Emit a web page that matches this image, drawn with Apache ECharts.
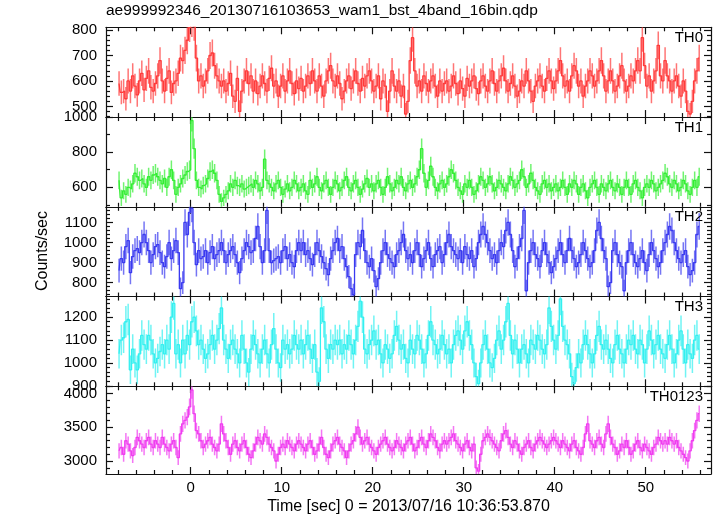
<!DOCTYPE html>
<html><head><meta charset="utf-8">
<script src="https://cdn.jsdelivr.net/npm/echarts@6/dist/echarts.min.js"></script>
<style>html,body{margin:0;padding:0;background:#fff}#c{width:717px;height:516px}</style>
</head><body><div id="c"></div>
<script>
// ---------------- data ----------------
const chartTitle = "ae999992346_20130716103653_wam1_bst_4band_16bin.qdp";
const xTitle = "Time [sec] 0 = 2013/07/16 10:36:53.870";
const yTitle = "Counts/sec";
const panelNames = ["TH0", "TH1", "TH2", "TH3", "TH0123"];
const binStart = -8;      // first bin left edge (sec)
const binWidth = 0.25;    // bin width (sec)
const xTicks = [0, 10, 20, 30, 40, 50];
const xMinorTicks = [-8, -6, -4, -2, 2, 4, 6, 8, 12, 14, 16, 18, 22, 24, 26, 28, 32, 34, 36, 38, 42, 44, 46, 48, 52, 54, 56];

const th0 = [
590,555,560,530,600,560,620,580,545,600,630,565,610,640,575,560,
590,620,680,600,560,610,640,555,590,600,630,690,680,720,760,810,
830,815,690,600,620,580,600,640,700,710,660,620,600,580,600,560,
590,630,540,520,610,480,560,600,640,590,620,560,600,550,580,620,
590,560,610,650,580,600,540,580,620,560,600,640,590,550,600,570,
610,560,580,620,590,640,600,560,620,580,540,600,640,660,600,580,
620,590,530,560,600,620,570,600,640,590,560,610,580,620,640,600,
560,580,620,530,600,580,480,560,640,580,560,600,540,580,470,520,
680,770,640,580,600,560,620,590,560,600,620,580,540,600,560,590,
600,560,580,620,590,550,600,570,540,610,580,600,620,570,550,600,
620,580,560,600,640,590,560,600,620,650,600,560,590,620,580,540,
560,600,580,640,600,560,520,580,600,620,580,560,610,640,600,570,
600,640,680,620,580,600,560,620,660,640,580,600,540,580,600,640,
620,580,600,640,680,620,560,600,640,600,560,580,620,660,600,560,
580,620,600,640,680,640,770,660,580,620,560,600,640,740,620,600,
680,620,600,560,600,620,580,540,600,560,480,470,520,600,640,690
];
const th1 = [
640,540,580,560,600,590,620,680,660,640,650,620,600,660,640,670,
680,660,640,620,650,600,660,700,640,560,600,620,650,670,690,700,
980,820,640,600,590,610,620,650,690,700,680,640,560,520,540,560,
580,620,600,640,610,600,620,590,600,610,620,600,640,620,580,600,
760,640,620,600,580,620,640,600,560,590,620,580,600,640,620,580,
600,620,580,560,640,600,620,660,600,580,620,640,600,560,600,640,
620,580,600,640,660,600,580,620,640,600,560,590,620,650,600,620,
580,620,640,600,560,600,660,620,580,600,640,620,660,600,580,620,
640,600,620,660,700,820,680,600,640,720,660,600,580,620,640,600,
620,660,700,680,640,600,580,560,620,600,640,600,560,580,620,660,
640,600,620,660,620,580,600,640,620,600,580,620,660,640,600,620,
640,700,660,600,620,680,640,600,580,560,620,640,600,620,580,600,
620,580,600,640,600,560,620,600,640,620,560,600,620,580,540,600,
620,640,600,560,620,600,580,620,640,600,580,620,600,560,600,640,
600,560,620,640,600,580,540,600,620,600,640,620,580,600,620,640,
680,660,620,600,640,620,580,600,640,620,580,560,600,640,600,660
];
const th2 = [
860,920,900,980,1010,850,930,960,970,950,1000,1040,1000,960,900,940,
980,990,950,900,880,930,1000,920,960,1010,950,770,800,1100,1040,1150,
1170,1000,890,960,920,930,960,900,950,980,920,940,960,1000,960,900,
940,960,980,940,900,850,920,960,1000,980,950,960,1020,1080,980,900,
960,1160,960,900,910,920,930,900,960,980,920,940,900,880,960,1000,
960,1000,940,960,920,890,940,1000,960,930,900,870,840,920,960,1000,
1020,960,980,920,880,830,770,740,940,1000,980,1060,960,900,880,920,
860,780,820,900,960,1000,940,920,900,880,940,960,1000,1040,960,920,
940,900,960,1000,940,880,920,960,1000,920,880,940,960,980,900,940,
1000,1040,980,960,940,920,960,900,980,940,920,960,880,920,1000,1040,
1080,1040,1000,960,920,940,900,960,1000,980,1060,1100,1040,960,880,920,
980,1020,1160,760,900,960,1000,940,920,880,960,1000,940,900,850,880,
920,960,1000,940,900,960,1020,960,920,880,900,940,1000,960,920,880,
900,960,1060,1100,1020,960,920,780,800,960,1000,940,900,880,760,900,
960,1000,940,900,880,920,960,900,860,940,1000,960,920,880,900,960,
1000,1040,1080,1060,1000,960,920,900,940,960,880,840,860,900,1040,1080
];
const th3 = [
1040,1100,1110,1180,1190,970,1060,1000,970,1040,1120,1080,1060,1120,1100,1040,
1000,1020,1050,1080,1040,1100,1060,1200,1260,1040,1080,1000,1100,1040,1120,1080,
1180,1200,1140,1080,1100,1060,1020,1040,1080,1120,1060,1100,1150,1240,1100,1060,
1020,1080,1100,1060,1040,1000,1120,1060,1000,960,1060,1120,1080,1040,1000,1060,
1100,1040,1000,1080,1150,1060,1000,980,1100,1060,1080,1040,1060,1120,1080,1060,
1100,1040,1080,1120,1060,1020,1080,960,920,1240,1180,1060,1020,1080,1060,1100,
1080,1100,1040,1080,1060,1120,1080,1040,1100,1160,1270,1200,1060,1040,1080,1100,
1140,1080,1100,1040,1000,1080,1060,1020,1040,1120,1160,1100,1060,1080,1020,1000,
1100,1060,1040,1120,1100,1060,1000,1040,1120,1180,1100,1080,1040,1060,1120,1080,
1040,1060,1000,1080,1120,1140,1100,1060,1140,1180,1120,1080,1000,940,910,1000,
1080,1120,1060,1000,980,1020,1100,1140,1060,1100,1180,1260,1120,1040,1100,1060,
1000,1060,1080,1040,1000,1100,1080,1060,1120,1100,1060,1040,1080,1240,1160,1100,
1060,1120,1280,1160,1100,1080,1040,940,910,980,1040,1000,1080,1120,1080,1040,
1000,1040,1120,1160,1080,1060,1100,1060,1020,1000,1080,1120,1060,1040,1000,1060,
1100,1080,1120,1060,1040,1100,1080,1000,1060,1140,1100,1040,1080,1120,1060,1040,
1020,1080,1120,1060,1000,1040,1100,1140,1060,1000,1080,1040,1020,1100,1120,1060
];
const th0123 = [
3150,3200,3100,3300,3250,3150,3080,3200,3350,3300,3250,3200,3300,3350,3250,3200,
3300,3250,3200,3350,3250,3200,3150,3250,3300,3200,3050,3400,3550,3600,3650,3800,
4050,3700,3450,3400,3300,3200,3250,3300,3350,3250,3200,3150,3250,3550,3400,3300,
3200,3100,3250,3300,3200,3150,3250,3300,3200,3100,3050,3150,3250,3350,3300,3250,
3400,3350,3250,3200,3150,3000,3100,3200,3250,3200,3300,3250,3200,3150,3250,3300,
3250,3200,3150,3250,3300,3200,3100,3150,3250,3350,3200,3100,3050,3150,3250,3300,
3350,3250,3200,3150,3050,3150,3250,3300,3400,3500,3350,3250,3300,3350,3250,3200,
3150,3100,3200,3250,3300,3350,3250,3200,3150,3200,3300,3250,3200,3150,3250,3300,
3350,3250,3150,3200,3300,3350,3250,3200,3300,3400,3350,3300,3200,3150,3250,3300,
3250,3300,3350,3400,3300,3250,3200,3150,3250,3300,3200,3150,3250,2900,2850,3100,
3300,3350,3400,3350,3300,3250,3200,3150,3300,3400,3450,3350,3250,3200,3300,3250,
3150,3100,3200,3250,3300,3200,3150,3250,3300,3350,3300,3250,3200,3250,3300,3350,
3300,3250,3200,3300,3250,3200,3150,3250,3300,3200,3150,3100,3200,3400,3550,3300,
3250,3200,3300,3350,3250,3200,3400,3550,3350,3250,3200,3100,3150,3250,3200,3300,
3200,3100,3150,3250,3300,3200,3150,3250,3200,3150,3100,3200,3250,3350,3300,3250,
3300,3250,3350,3300,3250,3300,3200,3150,3100,3050,3000,3150,3300,3450,3600,3700
];
const seriesValues = [th0, th1, th2, th3, th0123];

const yRanges = [[458, 811], [489, 1000], [731, 1178], [898, 1290], [2808, 4105]];
const yMajorTicks = [[500, 600, 700, 800], [600, 800, 1000], [800, 900, 1000, 1100], [900, 1000, 1100, 1200], [3000, 3500, 4000]];
const yMinorStep = [20, 100, 20, 20, 100];
const xRange = [-9.31, 57.17];

// ---------------- styling / layout ----------------
const colors = ['#ff3a3a', '#33ee33', '#3a3af0', '#33f0f0', '#f03cf0'];
const FONT = 'Liberation Sans, Arial, Helvetica, sans-serif';
const gridLeft = 106, gridRight = 6, gridTop0 = 27.3, panelH = 89.75;

function minorList(range, step, majors) {
  const out = [];
  for (let v = Math.ceil(range[0] / step) * step; v <= range[1]; v += step) {
    if (majors.indexOf(v) < 0) out.push(v);
  }
  return out;
}

const grids = [], xAxes = [], yAxes = [], series = [], graphics = [];
const axisLine = { show: true, onZero: false, lineStyle: { color: '#111', width: 1.2 } };
const noLine = { show: false, onZero: false };
const tickStyle = { color: '#111', width: 1.2 };
for (let i = 0; i < 5; i++) {
  const top = gridTop0 + i * panelH;
  grids.push({ left: gridLeft, right: gridRight, top: top, height: panelH });
  const last = i === 4;
  const xBase = { gridIndex: i, type: 'value', min: xRange[0], max: xRange[1], splitLine: { show: false } };
  xAxes.push(Object.assign({}, xBase, {
    position: 'bottom', axisLine: axisLine,
    axisTick: { show: true, inside: true, length: 7, customValues: xTicks, lineStyle: tickStyle },
    axisLabel: { show: last, customValues: xTicks, fontSize: 15, color: '#000', fontFamily: FONT, margin: 6,
      formatter: v => String(v) },
    name: last ? xTitle : '', nameLocation: 'middle', nameGap: 25,
    nameTextStyle: { fontSize: 16, color: '#000', fontFamily: FONT }
  }));
  xAxes.push(Object.assign({}, xBase, {
    position: 'bottom', axisLine: noLine,
    axisTick: { show: true, inside: true, length: 4, customValues: xMinorTicks, lineStyle: tickStyle },
    axisLabel: { show: false }
  }));
  xAxes.push(Object.assign({}, xBase, {
    position: 'top', axisLine: axisLine,
    axisTick: { show: true, inside: true, length: 7, customValues: xTicks, lineStyle: tickStyle },
    axisLabel: { show: false }
  }));
  xAxes.push(Object.assign({}, xBase, {
    position: 'top', axisLine: noLine,
    axisTick: { show: true, inside: true, length: 4, customValues: xMinorTicks, lineStyle: tickStyle },
    axisLabel: { show: false }
  }));

  const yr = yRanges[i], majors = yMajorTicks[i];
  const minors = minorList(yr, yMinorStep[i], majors);
  const yBase = { gridIndex: i, type: 'value', min: yr[0], max: yr[1], splitLine: { show: false } };
  yAxes.push(Object.assign({}, yBase, {
    position: 'left', axisLine: axisLine,
    axisTick: { show: true, inside: true, length: 7, customValues: majors, lineStyle: tickStyle },
    axisLabel: { show: true, customValues: majors, fontSize: 15, color: '#000', fontFamily: FONT, margin: 9,
      formatter: v => String(v) }
  }));
  yAxes.push(Object.assign({}, yBase, {
    position: 'left', axisLine: noLine,
    axisTick: { show: true, inside: true, length: 4, customValues: minors, lineStyle: tickStyle },
    axisLabel: { show: false }
  }));
  yAxes.push(Object.assign({}, yBase, {
    position: 'right', axisLine: axisLine,
    axisTick: { show: true, inside: true, length: 7, customValues: majors, lineStyle: tickStyle },
    axisLabel: { show: false }
  }));
  yAxes.push(Object.assign({}, yBase, {
    position: 'right', axisLine: noLine,
    axisTick: { show: true, inside: true, length: 4, customValues: minors, lineStyle: tickStyle },
    axisLabel: { show: false }
  }));

  const vals = seriesValues[i];
  const data = vals.map((v, k) => [binStart + (k + 0.5) * binWidth, v, Math.sqrt(v * binWidth) / binWidth]);
  const col = colors[i];
  // error bars
  series.push({
    type: 'custom', name: panelNames[i] + ' err', xAxisIndex: i * 4, yAxisIndex: i * 4, clip: true, silent: true,
    data: data, z: 2,
    renderItem: function (params, api) {
      const t = api.value(0), v = api.value(1), e = api.value(2);
      const lo = api.coord([t, v - e]), hi = api.coord([t, v + e]);
      return { type: 'line', shape: { x1: lo[0], y1: lo[1], x2: hi[0], y2: hi[1] },
        style: { stroke: col, lineWidth: 1.5, opacity: 0.7 } };
    }
  });
  // histogram steps
  series.push({
    type: 'line', name: panelNames[i], xAxisIndex: i * 4, yAxisIndex: i * 4, step: 'middle',
    data: data.map(d => [d[0], d[1]]), showSymbol: false, symbol: 'none', clip: true, silent: true, z: 3,
    lineStyle: { color: col, width: 1.3 }
  });
  graphics.push({ type: 'text', right: 14, top: top + 3, z: 100,
    style: { text: panelNames[i], font: '15px ' + FONT, fill: '#000' } });
}

graphics.push({ type: 'text', left: 106, top: 3, style: { text: chartTitle, font: '15.5px ' + FONT, fill: '#000' } });
graphics.push({ type: 'text', x: 43, y: 251, rotation: Math.PI / 2,
  style: { text: yTitle, font: '16px ' + FONT, fill: '#000', align: 'center', verticalAlign: 'middle' } });

const chart = echarts.init(document.getElementById('c'), null, { renderer: 'canvas' });
chart.setOption({
  animation: false,
  backgroundColor: '#fff',
  grid: grids, xAxis: xAxes, yAxis: yAxes, series: series, graphic: graphics
});
</script>
</body></html>
